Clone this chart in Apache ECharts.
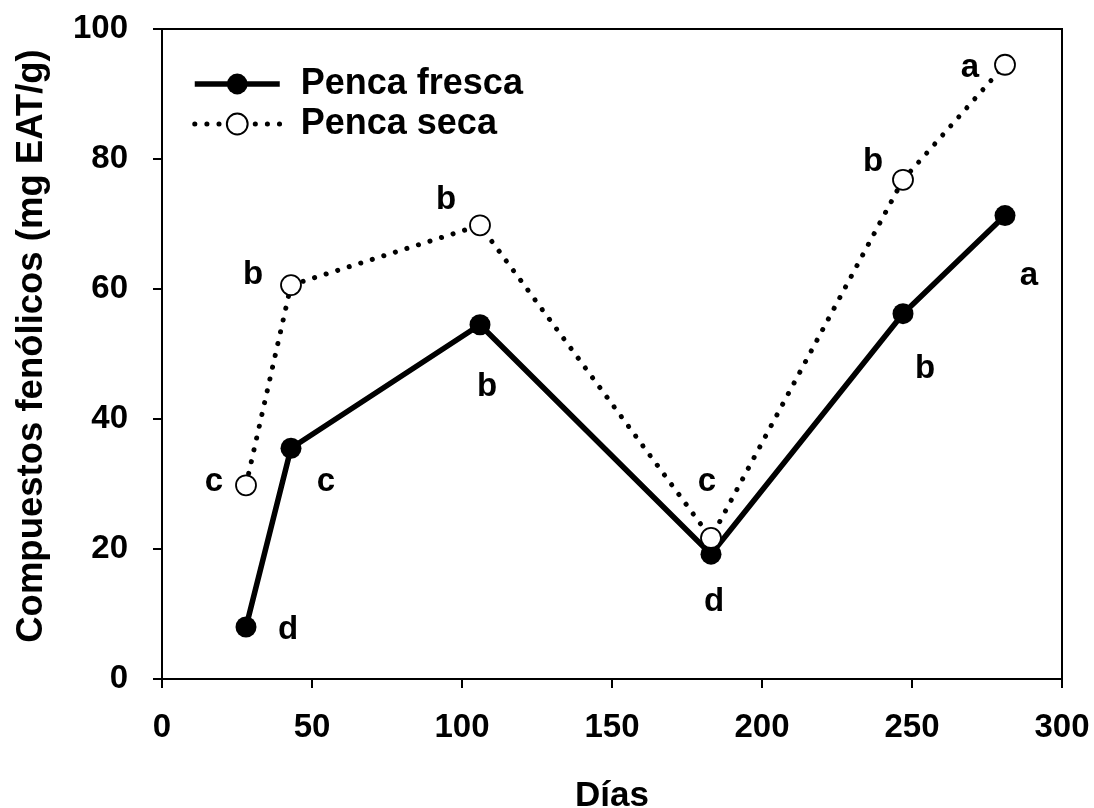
<!DOCTYPE html>
<html>
<head>
<meta charset="utf-8">
<script src="https://cdn.jsdelivr.net/npm/echarts@6/dist/echarts.min.js"></script>
<style>
html,body{margin:0;padding:0;background:#fff;}
#chart{width:1094px;height:808px;}
</style>
</head>
<body>
<div id="chart"></div>
<script>
const dias = [28, 43, 106, 183, 247, 281];
const pencaFresca = [8.0, 35.5, 54.5, 19.2, 56.2, 71.3];
const pencaSeca = [29.8, 60.6, 69.8, 21.7, 76.8, 94.5];
const letrasFresca = ['d', 'c', 'b', 'd', 'b', 'a'];
const letrasSeca = ['c', 'b', 'b', 'c', 'b', 'a'];
const seriesNames = ['Penca fresca', 'Penca seca'];
const xAxisTitle = 'Días';
const yAxisTitle = 'Compuestos fenólicos (mg EAT/g)';

// label offsets (style only)
const offFresca = [[42, 3], [35, 34], [7, 62], [3, 48], [22, 55], [24, 60]];
const offSeca = [[-32, -3], [-38, -10], [-34, -25], [-4, -56], [-30, -18], [-35, 3]];

const FONT = '"Liberation Sans", Arial, Helvetica, sans-serif';
const solidLine = { color: '#000', width: 5.5 };
const dottedLine = { color: '#000', width: 5, type: [0.1, 12], cap: 'round' };

function build(vals, letters, offs) {
  return dias.map((d, i) => ({
    value: [d, vals[i]],
    label: {
      show: true,
      position: 'inside',
      formatter: letters[i],
      offset: offs[i],
      color: '#000',
      fontFamily: FONT,
      fontWeight: 'bold',
      fontSize: 33
    }
  }));
}

const chart = echarts.init(document.getElementById('chart'));
chart.setOption({
  animation: false,
  backgroundColor: '#fff',
  grid: {
    left: 162, top: 29, width: 900, height: 650,
    outerBoundsMode: 'none', containLabel: false,
    show: true, borderColor: '#000', borderWidth: 2, backgroundColor: 'transparent'
  },
  legend: {
    left: 192, top: 66, padding: 0,
    orient: 'vertical',
    itemWidth: 85, itemHeight: 26, itemGap: 4,
    data: [
      { name: seriesNames[0], lineStyle: solidLine },
      { name: seriesNames[1], lineStyle: dottedLine }
    ],
    textStyle: {
      fontFamily: FONT, fontWeight: 'bold', fontSize: 36, color: '#000',
      padding: [0, 0, 0, 16]
    }
  },
  xAxis: {
    type: 'value', min: 0, max: 300, interval: 50,
    name: xAxisTitle, nameLocation: 'middle', nameGap: 100,
    nameTextStyle: { fontFamily: FONT, fontWeight: 'bold', fontSize: 35, color: '#000' },
    axisLine: { show: true, onZero: false, lineStyle: { color: '#000', width: 2 } },
    axisTick: { show: true, inside: false, length: 9, lineStyle: { color: '#000', width: 2 } },
    axisLabel: { margin: 32, fontFamily: FONT, fontWeight: 'bold', fontSize: 33, color: '#000' },
    splitLine: { show: false }
  },
  yAxis: {
    type: 'value', min: 0, max: 100, interval: 20,
    name: yAxisTitle, nameLocation: 'middle', nameGap: 112, nameRotate: 90,
    nameTextStyle: { fontFamily: FONT, fontWeight: 'bold', fontSize: 36.5, color: '#000', padding: [0, 0, 0, 16] },
    axisLine: { show: true, onZero: false, lineStyle: { color: '#000', width: 2 } },
    axisTick: { show: true, inside: false, length: 9, lineStyle: { color: '#000', width: 2 } },
    axisLabel: { margin: 34, fontFamily: FONT, fontWeight: 'bold', fontSize: 33, color: '#000' },
    splitLine: { show: false }
  },
  series: [
    {
      name: seriesNames[0],
      type: 'line',
      data: build(pencaFresca, letrasFresca, offFresca),
      symbol: 'circle', symbolSize: 21,
      lineStyle: solidLine,
      itemStyle: { color: '#000', borderColor: '#000', borderWidth: 0 },
      emphasis: { disabled: true },
      z: 2
    },
    {
      name: seriesNames[1],
      type: 'line',
      data: build(pencaSeca, letrasSeca, offSeca),
      symbol: 'circle', symbolSize: 20,
      showAllSymbol: true,
      lineStyle: dottedLine,
      itemStyle: { color: '#fff', borderColor: '#000', borderWidth: 1.8 },
      emphasis: { disabled: true },
      z: 3
    }
  ]
});
</script>
</body>
</html>
